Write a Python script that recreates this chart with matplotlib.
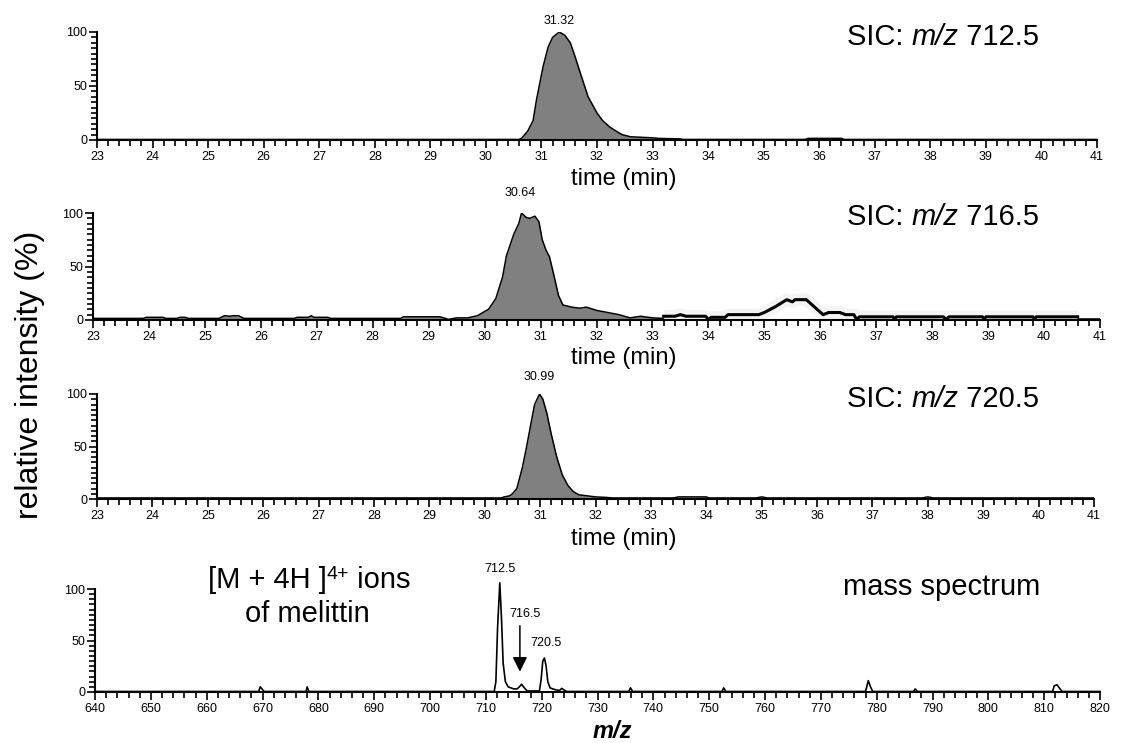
import matplotlib
matplotlib.use('Agg')
import matplotlib.pyplot as plt
from matplotlib.ticker import MultipleLocator

plt.rcParams['font.family'] = ['Liberation Sans', 'DejaVu Sans']

# SIC m/z 712.5 (time in min, relative intensity in %)
t712 = [23.0, 30.6, 30.65, 30.75, 30.85, 30.91, 31.03, 31.12, 31.2, 31.32, 31.42, 31.52,
        31.6, 31.7, 31.84, 32.0, 32.1, 32.23, 32.35, 32.45, 32.6, 33.0, 33.1, 33.5, 33.55,
        35.75, 35.8, 36.4, 36.45, 41.0]
i712 = [0.5, 0.5, 2, 8, 18, 37, 68, 86, 95, 100, 97, 90,
        78, 62, 40, 25, 18, 12, 8, 5, 3, 2, 1.5, 1, 0.5,
        0.5, 1.5, 1.5, 0.5, 0.5]

# SIC m/z 716.5, main trace
t716 = [23.0, 23.9, 23.95, 24.25, 24.3, 24.5, 24.55, 24.65, 24.7, 25.25, 25.35, 25.45,
        25.5, 25.6, 25.7, 26.6, 26.65, 26.85, 26.9, 26.95, 27.2, 27.25, 28.5, 28.55,
        29.2, 29.3, 29.35, 29.45, 29.5, 29.7, 29.87, 30.07, 30.2, 30.32, 30.39, 30.52,
        30.61, 30.66, 30.74, 30.8, 30.9, 30.97, 31.03, 31.1, 31.16, 31.26, 31.32, 31.4,
        31.56, 31.7, 31.82, 32.0, 32.2, 32.4, 32.6, 32.79, 33.0, 33.2]
i716 = [1.5, 1.5, 2.5, 2.5, 1.5, 1.5, 2.5, 2.5, 1.5, 1.5, 4, 3.5,
        4, 4, 1.5, 1.5, 2.5, 2.5, 4, 2.5, 2.5, 1.5, 1.5, 3,
        3, 1.5, 0.5, 1.5, 2, 2, 4, 10, 20, 40, 60, 80,
        90, 100, 96, 95, 97, 92, 75, 65, 59, 37, 23, 14,
        12, 11, 12, 9, 7, 5, 2, 3.5, 2, 1.5]

# SIC m/z 716.5, later part of the trace
t716b = [33.2, 33.4, 33.5, 33.6, 33.95, 34.0, 34.05, 34.3, 34.35, 34.9, 35.0, 35.2,
         35.4, 35.5, 35.55, 35.75, 35.9, 36.05, 36.15, 36.35, 36.45, 36.6, 36.65, 36.7,
         37.3, 37.33, 37.36, 38.2, 38.25, 38.3, 38.9, 38.93, 38.96, 39.8, 39.83, 39.86, 40.6]
i716b = [3.5, 3.5, 5, 3.5, 3.5, 0.5, 2.5, 2.5, 5, 5, 7, 12.5,
         19, 17, 19, 19, 12, 5, 7, 7, 5, 5, 0.5, 3,
         3, 0.5, 3, 3, 0.5, 3, 3, 0.5, 3, 3, 0.5, 3, 3]
t716c = [40.6, 41.0]
i716c = [1, 1]

# SIC m/z 720.5
t720 = [23.0, 30.3, 30.35, 30.45, 30.5, 30.58, 30.68, 30.75, 30.81, 30.9, 30.99, 31.05,
        31.12, 31.2, 31.3, 31.4, 31.5, 31.6, 31.7, 31.85, 32.0, 32.2, 32.3, 33.4, 33.5,
        34.0, 34.05, 34.9, 35.0, 35.1, 37.9, 38.0, 38.1, 41.0]
i720 = [1, 1, 2, 3, 5, 10, 30, 48, 65, 90, 100, 95,
        82, 62, 40, 23, 13, 7, 4, 3, 2, 1.5, 1, 1, 2,
        2, 1, 1, 2, 1, 1, 2, 1, 1]

# mass spectrum
mz = [640, 669.3, 669.6, 669.9, 670.3, 677.8, 678.0, 678.3, 711.5, 711.8, 712.1, 712.5,
      712.8, 713.1, 713.5, 714.0, 715.0, 715.6, 716.0, 716.4, 716.9, 717.4, 719.6, 719.9,
      720.2, 720.5, 720.8, 721.1, 721.5, 722.0, 722.6, 723.2, 723.6, 724.0, 724.5, 735.6,
      735.9, 736.3, 752.3, 752.6, 753.0, 778.0, 778.5, 778.9, 779.3, 786.6, 786.9, 787.3,
      811.5, 811.8, 812.3, 812.7, 813.2, 820]
ms = [0.5, 0.5, 5, 3, 0.5, 0.5, 5, 0.5, 0.5, 10, 62, 106,
      72, 28, 10, 5, 3, 3, 5, 7.5, 4, 1, 1, 12,
      30, 33, 25, 10, 4, 3, 2, 1.5, 3.5, 2, 0.5, 0.5,
      4, 0.5, 0.5, 4, 0.5, 0.5, 11, 5, 0.5, 0.5, 3, 0.5,
      0.5, 6, 7, 4, 0.5, 0.5]

peak_labels = ['31.32', '30.64', '30.99']
peak_times = [31.32, 30.64, 30.99]
peak_label_y = [110, 119, 116]

ms_labels = ['712.5', '716.5', '720.5']
ms_label_x = [712.5, 717.0, 720.7]
ms_label_y = [119, 76, 48]

W, H = 1122, 743
fig = plt.figure(figsize=(W / 100, H / 100), dpi=100)
renderer = fig.canvas.get_renderer()


def panel(l, r, top, bot):
    ax = fig.add_axes([l / W, 1 - bot / H, (r - l) / W, (bot - top) / H])
    for s in ['top', 'right']:
        ax.spines[s].set_visible(False)
    for s in ['left', 'bottom']:
        ax.spines[s].set_linewidth(1.5)
    ax.set_ylim(0, 100)
    ax.set_yticks([0, 50, 100])
    ax.yaxis.set_minor_locator(MultipleLocator(5))
    ax.tick_params(which='major', length=5.8, width=1.2, labelsize=9, pad=1)
    ax.tick_params(axis='x', which='major', pad=2)
    ax.tick_params(which='minor', length=4.3, width=1.2)
    return ax


def chrom(ax, t, y):
    ax.set_xlim(23, 41)
    ax.xaxis.set_major_locator(MultipleLocator(1))
    ax.xaxis.set_minor_locator(MultipleLocator(0.2))
    ax.fill_between(t, 0, y, color='#808080', lw=0)
    ax.plot(t, y, color='k', lw=1.1)


def rich(x, y, parts):
    # pieces of text side by side on one baseline, x and y in pixels from top left
    for s, size, style, rise in parts:
        t = fig.text(x / W, 1 - (y - rise) / H, s, fontsize=size, fontstyle=style,
                     va='baseline', ha='left')
        x = t.get_window_extent(renderer).x1


ax1 = panel(97, 1097, 32, 140)
chrom(ax1, t712, i712)
ax2 = panel(93, 1100, 213, 320)
chrom(ax2, t716, i716)
ax2.plot(t716b, i716b, color='#eeeeee', lw=9, solid_capstyle='butt', alpha=0.6)
ax2.plot(t716b, i716b, color='k', lw=2.2)
ax2.plot(t716c, i716c, color='k', lw=1.1)
ax3 = panel(97, 1094, 394, 499)
chrom(ax3, t720, i720)

for ax, lab, tp, ly in zip([ax1, ax2, ax3], peak_labels, peak_times, peak_label_y):
    ax.text(tp, ly, lab, ha='center', va='center', fontsize=9)

ax4 = panel(95, 1100, 589, 692)
ax4.set_xlim(640, 820)
ax4.xaxis.set_major_locator(MultipleLocator(10))
ax4.xaxis.set_minor_locator(MultipleLocator(2))
ax4.plot(mz, ms, color='k', lw=1.2, clip_on=False)
for lab, lx, ly in zip(ms_labels, ms_label_x, ms_label_y):
    ax4.text(lx, ly, lab, ha='center', va='center', fontsize=9)
ax4.annotate('', xy=(716.1, 17), xytext=(716.1, 67),
             arrowprops=dict(arrowstyle='-|>', color='k', lw=1.1, mutation_scale=22))

# panel titles
for y, ion in zip([45, 225, 407], ['712.5', '716.5', '720.5']):
    rich(847, y, [('SIC: ', 21, 'normal', 0), ('m/z', 21, 'italic', 0),
                  (' ' + ion, 21, 'normal', 0)])
fig.text(942 / W, 1 - 587 / H, 'mass spectrum', fontsize=21, ha='center', va='center')
rich(208, 588, [('[M + 4H ]', 21, 'normal', 0), ('4+', 14, 'normal', 9),
                (' ions', 21, 'normal', 0)])
fig.text(307 / W, 1 - 614 / H, 'of melittin', fontsize=21, ha='center', va='center')
fig.text(30 / W, 1 - 375 / H, 'relative intensity (%)', fontsize=23, rotation=90,
         ha='center', va='center')

for y in [179, 358, 539]:
    fig.text(624 / W, 1 - y / H, 'time (min)', fontsize=17, ha='center', va='center')
fig.text(612 / W, 1 - 731 / H, 'm/z', fontsize=17, fontweight='bold', fontstyle='italic',
         ha='center', va='center')

fig.savefig('out.png', dpi=100)
